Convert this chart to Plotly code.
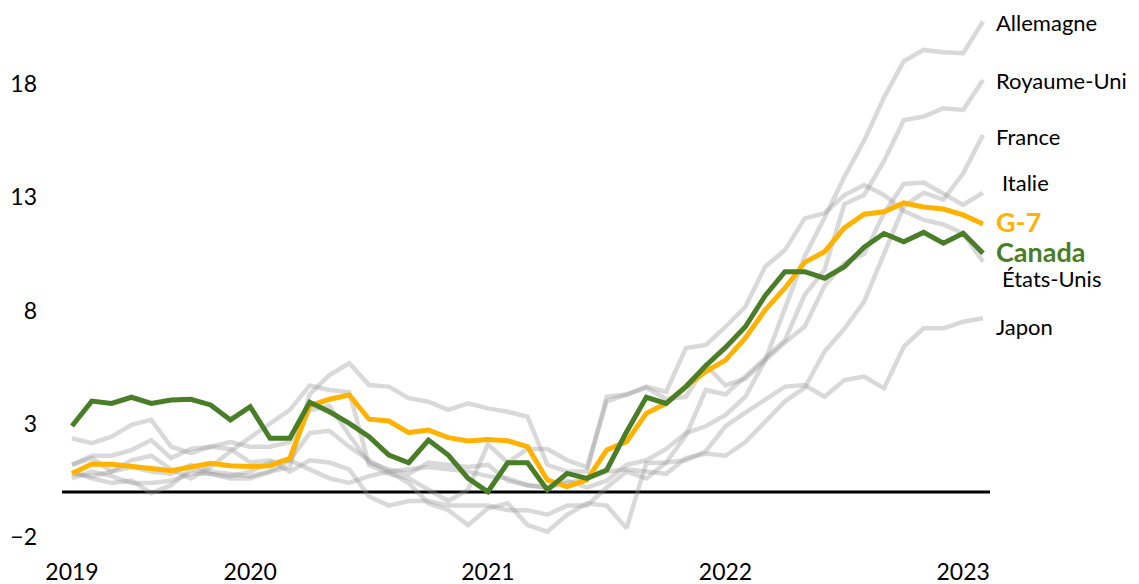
import plotly.graph_objects as go

# Monthly, April 2019 to February 2023 (47 points); year label at first point and each January
x_labels = ["2019"] + [""] * 8 + ["2020"] + [""] * 11 + ["2021"] + [""] * 11 + ["2022"] + [""] * 11 + ["2023", ""]

canada = [2.91, 4.01, 3.91, 4.18, 3.91, 4.06, 4.09, 3.84, 3.18,
          3.76, 2.37, 2.37, 3.96, 3.54, 3.03, 2.44, 1.63, 1.29, 2.29, 1.63, 0.60,
          0.01, 1.29, 1.29, 0.09, 0.82, 0.60, 0.97, 2.65, 4.18, 3.91, 4.65, 5.57,
          6.38, 7.29, 8.66, 9.72, 9.72, 9.43, 9.94, 10.8, 11.4, 11.04, 11.45, 10.97,
          11.41, 10.53]
g7 = [0.82, 1.24, 1.22, 1.15, 1.04, 0.94, 1.09, 1.27, 1.16,
      1.12, 1.16, 1.49, 3.80, 4.09, 4.28, 3.21, 3.13, 2.62, 2.73, 2.40, 2.25,
      2.32, 2.26, 2.00, 0.53, 0.24, 0.53, 1.85, 2.22, 3.47, 3.91, 4.65, 5.31,
      5.82, 6.80, 8.03, 9.0, 10.13, 10.6, 11.65, 12.25, 12.36, 12.75, 12.57, 12.48,
      12.22, 11.82]
allemagne = [1.2, 1.5, 0.9, 1.4, 1.6, 1.0, 0.6, 1.1, 1.8,
             2.4, 3.03, 3.62, 4.7, 4.5, 4.4, 1.2, 0.8, 0.6, 0.1, -0.4, 0.1,
             2.1, 1.3, 1.9, 1.9, 1.4, 1.1, 4.0, 4.3, 4.6, 4.1, 4.2, 5.6,
             4.7, 5.0, 5.8, 8.1, 10.4, 12.1, 13.9, 15.5, 17.4, 19.0, 19.5, 19.4,
             19.35, 20.75]
royaume_uni = [1.2, 1.6, 1.6, 1.85, 2.29, 1.5, 1.9, 2.0, 1.9,
               1.3, 1.4, 0.9, 1.4, 1.3, 1.0, -0.2, -0.6, -0.4, -0.4, -0.6, -0.6,
               -0.6, -0.8, -0.8, -1.0, -0.6, -0.6, 0.2, 0.9, 0.6, 1.3, 2.5, 4.5,
               4.3, 5.1, 5.9, 6.7, 8.7, 9.8, 12.7, 13.1, 14.6, 16.4, 16.56, 16.93,
               16.85, 18.17]
france = [2.37, 2.15, 2.44, 2.96, 3.18, 2.0, 1.71, 2.0, 2.2,
          2.0, 2.0, 2.2, 3.6, 3.8, 2.5, 1.3, 1.0, 0.8, 1.3, 1.2, 1.1,
          1.2, 0.5, 0.3, 0.2, 0.4, 0.6, 0.9, 1.0, 0.9, 0.8, 1.5, 1.7,
          1.6, 2.2, 3.1, 4.0, 4.6, 6.2, 7.2, 8.4, 10.5, 12.6, 13.2, 12.9,
          14.06, 15.75]
italie = [0.8, 0.7, 0.9, 1.1, 0.9, 0.8, 1.2, 0.9, 0.8,
          0.7, 0.9, 1.4, 2.6, 2.7, 2.0, 1.4, 0.9, 1.0, 1.1, 1.0, 0.9,
          0.7, 0.6, 0.3, 0.2, 0.5, 0.2, 0.5, 1.2, 1.4, 1.9, 2.6, 2.9,
          3.4, 4.2, 5.8, 6.6, 7.3, 9.1, 10.1, 10.5, 12.3, 13.59, 13.65, 13.18,
          12.66, 13.2]
etats_unis = [0.6, 0.9, 0.7, 0.4, 0.4, 0.5, 0.8, 0.8, 0.6,
              0.6, 0.9, 1.1, 4.3, 5.16, 5.68, 4.72, 4.65, 4.14, 3.98, 3.62, 3.91,
              3.69, 3.54, 3.32, 1.2, 0.9, 0.9, 4.2, 4.3, 4.65, 4.42, 6.35, 6.48,
              7.29, 8.17, 9.94, 10.67, 12.07, 12.3, 13.1, 13.54, 13.1, 12.4, 12.0, 11.8,
              11.4, 10.16]
japon = [0.9, 0.6, 0.4, 0.5, -0.05, 0.3, 1.0, 0.8, 0.7,
         0.9, 1.3, 1.4, 1.0, 0.6, 0.4, 0.7, 0.9, 0.4, -0.5, -0.8, -1.46,
         -0.72, -0.5, -1.46, -1.75, -1.01, -0.5, -0.6, -1.6, 1.28, 1.3, 1.4, 1.8,
         2.9, 3.5, 4.06, 4.65, 4.72, 4.2, 4.94, 5.09, 4.57, 6.41, 7.22, 7.22,
         7.51, 7.66]

grey_series = [
    ("Allemagne", allemagne), ("Royaume-Uni", royaume_uni), ("France", france),
    ("Italie", italie), ("États-Unis", etats_unis), ("Japon", japon),
]

# right-hand label positions (value units)
label_y = {"Allemagne": 20.73, "Royaume-Uni": 18.17, "France": 15.7, "Italie": 13.63,
           "G-7": 11.95, "Canada": 10.6, "États-Unis": 9.4, "Japon": 7.28}
label_indent = {"Italie": 6, "États-Unis": 6}

GREEN = "#4A7D27"
ORANGE = "#FFB300"
GREY = "rgba(150,150,150,0.36)"
FONT = "Lato"

n = len(canada)
xs = list(range(n))
tickvals = [i for i, t in enumerate(x_labels) if t]
ticktext = [x_labels[i] for i in tickvals]

fig = go.Figure()
for name, vals in grey_series:
    fig.add_trace(go.Scatter(x=xs, y=vals, mode="lines", name=name,
                             line=dict(color=GREY, width=4.5), hoverinfo="skip"))
fig.add_trace(go.Scatter(x=xs, y=g7, mode="lines", name="G-7",
                         line=dict(color=ORANGE, width=5)))
fig.add_trace(go.Scatter(x=xs, y=canada, mode="lines", name="Canada",
                         line=dict(color=GREEN, width=5)))

# zero baseline
fig.add_shape(type="line", xref="paper", x0=0, x1=1, yref="y", y0=0, y1=0,
              line=dict(color="black", width=3), layer="below")

for name, yv in label_y.items():
    if name == "G-7":
        font = dict(family=FONT, size=27, color=ORANGE)
        txt = "<b>G-7</b>"
    elif name == "Canada":
        font = dict(family=FONT, size=27, color=GREEN)
        txt = "<b>Canada</b>"
    else:
        font = dict(family=FONT, size=22, color="black")
        txt = name
    fig.add_annotation(x=n - 1, y=yv, xref="x", yref="y", text=txt, showarrow=False,
                       xanchor="left", yanchor="middle", xshift=12 + label_indent.get(name, 0),
                       font=font, borderpad=0)

# the page body adds an 8px offset; the figure is sized so the plot lands where the reference has it
xpad_lo = 10 / 19.804
xpad_hi = 7 / 19.804
fig.update_layout(
    width=1131, height=576,
    margin=dict(l=54, r=149, t=2, b=34),
    paper_bgcolor="white", plot_bgcolor="white",
    showlegend=False,
    font=dict(family=FONT, size=23, color="black"),
    xaxis=dict(range=[-xpad_lo, n - 1 + xpad_hi], showgrid=False, zeroline=False,
               showline=False, tickmode="array", tickvals=tickvals, ticktext=ticktext,
               ticks="", ticklabelstandoff=6, tickfont=dict(size=23), automargin=False),
    yaxis=dict(range=[-2.558, 21.26], showgrid=False, zeroline=False, showline=False,
               tickmode="array", tickvals=[-2, 3, 8, 13, 18], ticks="",
               ticklabelstandoff=24, tickfont=dict(size=23), automargin=False),
)

fig.write_html("out.html")
